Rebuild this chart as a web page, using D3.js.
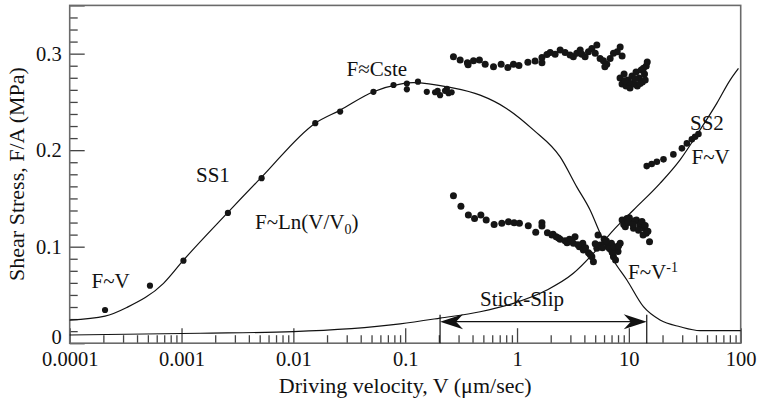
<!DOCTYPE html>
<html>
<head>
<meta charset="utf-8">
<script src="https://cdn.jsdelivr.net/npm/d3@7"></script>
<style>
  html, body { margin: 0; padding: 0; background: #fff; }
  svg { display: block; }
  text { font-family: "Liberation Serif", "Times New Roman", Times, serif; fill: #111; }
</style>
</head>
<body>
<svg id="chart" width="761" height="401"></svg>
<script>
// ---- data ----
const xMajorTicks = [0.0001, 0.001, 0.01, 0.1, 1, 10, 100];
const xTickLabels = ["0.0001", "0.001", "0.01", "0.1", "1", "10", "100"];
const yMajorTicks = [0, 0.1, 0.2, 0.3, 0.35];
const yTickLabels = ["0", "0.1", "0.2", "0.3", ""];

// SS1 steady-sliding points
const ss1V = [2.07e-4, 5.22e-4, 1.04e-3, 2.6e-3, 5.2e-3, 0.0157, 0.0262, 0.052, 0.0786, 0.1035, 0.1035, 0.13, 0.156, 0.185, 0.205, 0.227, 0.244, 0.26, 0.195, 0.236];
const ss1F = [0.0344, 0.0596, 0.0855, 0.135, 0.171, 0.228, 0.240, 0.2605, 0.2675, 0.269, 0.263, 0.271, 0.2605, 0.26, 0.257, 0.2615, 0.259, 0.26, 0.2615, 0.2635];

// stick-slip: upper (peak) stresses
const upperV = [0.27, 0.31, 0.36, 0.365, 0.408, 0.461, 0.519, 0.616, 0.721, 0.828, 0.929, 1.04, 1.25, 1.45, 1.67, 1.67, 1.85, 1.98, 2.19, 2.43, 2.69, 2.98, 3.19, 3.42, 3.67, 3.8, 4.06, 4.35, 4.67, 5.17, 5.0, 5.53, 5.92, 6.35, 6.1, 6.8, 7.28, 7.87, 8.36, 8.7,
  8.34, 8.69, 9.06, 9.44, 9.83, 10.24, 10.67, 11.12, 11.59, 11.9, 12.4, 12.9, 13.2, 13.8, 14.0, 14.3, 14.6, 10.0, 11.3, 12.6, 13.5, 9.2];
const upperF = [0.2967, 0.2933, 0.2905, 0.2885, 0.2926, 0.2933, 0.289, 0.2864, 0.2889, 0.2857, 0.2889, 0.2878, 0.2912, 0.2923, 0.2905, 0.296, 0.2992, 0.3013, 0.2995, 0.3037, 0.3013, 0.2985, 0.2967, 0.3003, 0.3037, 0.2995, 0.2967, 0.302, 0.3054, 0.3089, 0.3003, 0.295, 0.2926, 0.289, 0.2864, 0.295, 0.3003, 0.302, 0.307, 0.2975,
  0.2747, 0.2685, 0.2788, 0.2664, 0.2726, 0.2643, 0.2768, 0.2685, 0.2809, 0.2664, 0.2747, 0.283, 0.2706, 0.2788, 0.2726, 0.2871, 0.2913, 0.27, 0.274, 0.269, 0.285, 0.272];

// stick-slip: lower (residual) stresses
const lowerV = [0.27, 0.315, 0.367, 0.417, 0.475, 0.53, 0.624, 0.731, 0.838, 0.942, 1.05, 1.26, 1.47, 1.67, 1.67, 1.87, 2.05, 2.24, 2.43, 2.69, 2.94, 3.19, 3.30, 3.61, 3.87, 3.92, 4.35, 4.67, 4.82, 5.17, 5.53, 6.1, 6.5, 6.98, 7.28, 7.6, 7.87, 8.36, 8.7, 9.6, 10.6, 11.7, 12.5, 13.8, 14.3, 15.3, 9.3, 11.0, 13.4,
  9.0, 10.1, 11.3, 12.9, 14.8, 6.0, 5.3, 8.0,
  2.1, 2.35, 2.8, 3.05, 3.5, 4.1, 4.5, 5.0, 5.8, 6.3, 6.7, 7.1, 7.4, 8.1, 9.9, 10.9, 12.2, 13.1, 14.0];
const lowerF = [0.1528, 0.142, 0.1328, 0.1293, 0.1328, 0.1276, 0.1231, 0.1242, 0.1258, 0.1248, 0.1242, 0.1217, 0.1149, 0.1248, 0.1214, 0.1145, 0.1121, 0.1103, 0.1076, 0.1062, 0.1076, 0.1035, 0.1103, 0.1, 0.1035, 0.0965, 0.0937, 0.0896, 0.0844, 0.0983, 0.1017, 0.1051, 0.1, 0.1035, 0.0896, 0.0862, 0.0983, 0.1035, 0.1276, 0.1293, 0.1258, 0.1276, 0.1224, 0.119, 0.1138, 0.1051, 0.1207, 0.119, 0.112,
  0.123, 0.13, 0.127, 0.124, 0.116, 0.108, 0.112, 0.095,
  0.113, 0.109, 0.104, 0.107, 0.102, 0.099, 0.092, 0.103, 0.099, 0.106, 0.098, 0.094, 0.1, 0.101, 0.125, 0.123, 0.117, 0.126, 0.122];

// SS2 steady-sliding points
const ss2V = [14.45, 16.0, 17.8, 20.4, 25.0, 29.8, 33.0, 36.6, 39.1, 41.9];
const ss2F = [0.1835, 0.1856, 0.188, 0.1905, 0.1956, 0.2019, 0.207, 0.2112, 0.2139, 0.2167];

// model curve A (SS1 bell)
const curveAV = [1e-4, 2.07e-4, 3.24e-4, 6.9e-4, 1.04e-3, 2.55e-3, 5.2e-3, 0.0157, 0.0262, 0.052, 0.09, 0.1185, 0.252, 0.468, 0.811, 1.40, 2.43, 3.42, 4.50, 5.53, 7.28, 9.6, 13.5, 19.0, 28.7, 43.3, 100];
const curveAF = [0.024, 0.028, 0.037, 0.062, 0.086, 0.1345, 0.172, 0.228, 0.2415, 0.2605, 0.2685, 0.27, 0.265, 0.257, 0.243, 0.221, 0.193, 0.162, 0.138, 0.114, 0.086, 0.0655, 0.0378, 0.024, 0.017, 0.013, 0.013];

// model curve B (rising, SS2)
const curveBV = [1e-4, 1.47e-3, 0.01, 0.09, 0.205, 0.468, 0.929, 1.85, 3.19, 4.82, 7.28, 11.0, 19.0, 28.7, 43.3, 61.1, 80.4, 95.5];
const curveBF = [0.0085, 0.0103, 0.012, 0.020, 0.026, 0.0326, 0.0413, 0.0551, 0.0724, 0.0931, 0.1172, 0.138, 0.1656, 0.19, 0.221, 0.2485, 0.2726, 0.2847];

// stick-slip range
const stickSlipV = [0.205, 14.45];
const stickSlipArrowF = 0.0223;
const stickSlipMarkF = 0.0295;

// ---- layout ----
const svg = d3.select("#chart");
const L = 69.7, R = 740.7, T = 5.4, B = 343.2;
const x = d3.scaleLog().domain([1e-4, 100]).range([L, R]);
const y = d3.scaleLinear().domain([0, 0.35]).range([B, T]);

const axisCol = "#6a6a6a", tickCol = "#444";

// minor ticks
const xMinor = [];
for (let e = -4; e < 2; e++) for (let k = 2; k <= 9; k++) xMinor.push(k * Math.pow(10, e));
const yMinor = d3.range(0, 29).map(i => i * 0.0125).filter(v => !yMajorTicks.some(m => Math.abs(m - v) < 1e-6));

const gx = svg.append("g").attr("transform", `translate(0,${B})`);
gx.append("g").call(d3.axisBottom(x).tickValues(xMinor).tickSizeInner(-8).tickSizeOuter(0).tickFormat(""))
  .call(g => g.select(".domain").remove());
gx.append("g").call(d3.axisBottom(x).tickValues(xMajorTicks).tickSizeInner(-15).tickSizeOuter(0).tickPadding(8)
    .tickFormat((d, i) => xTickLabels[i]))
  .call(g => g.select(".domain").remove());
gx.selectAll("line").attr("stroke", tickCol).attr("stroke-width", 1.3);
gx.selectAll("text").attr("font-size", "20.5px").attr("font-family", "Liberation Serif, Times New Roman, serif").attr("fill", "#111");

const gy = svg.append("g").attr("transform", `translate(${L},0)`);
gy.append("g").call(d3.axisLeft(y).tickValues(yMinor).tickSizeInner(-8).tickSizeOuter(0).tickFormat(""))
  .call(g => g.select(".domain").remove());
gy.append("g").call(d3.axisLeft(y).tickValues(yMajorTicks).tickSizeInner(-15).tickSizeOuter(0).tickPadding(8)
    .tickFormat((d, i) => yTickLabels[i]))
  .call(g => g.select(".domain").remove());
gy.selectAll("line").attr("stroke", tickCol).attr("stroke-width", 1.3);
gy.selectAll("text").attr("font-size", "20.5px").attr("font-family", "Liberation Serif, Times New Roman, serif").attr("fill", "#111");
// zero label sits on the axis line
gy.selectAll(".tick").filter(d => d === 0).select("text").attr("dy", "0").attr("y", 0);

// frame
svg.append("rect").attr("x", L).attr("y", T).attr("width", R - L).attr("height", B - T)
  .attr("fill", "none").attr("stroke", axisCol).attr("stroke-width", 1.6);

// curves
const line = d3.line().x(d => x(d[0])).y(d => y(d[1])).curve(d3.curveMonotoneX);
svg.append("path").datum(curveAV.map((v, i) => [v, curveAF[i]])).attr("d", line)
  .attr("fill", "none").attr("stroke", "#111").attr("stroke-width", 1.2);
svg.append("path").datum(curveBV.map((v, i) => [v, curveBF[i]])).attr("d", line)
  .attr("fill", "none").attr("stroke", "#111").attr("stroke-width", 1.2);

// points
function dots(V, F, r) {
  svg.append("g").selectAll("circle").data(V.map((v, i) => [v, F[i]])).join("circle")
    .attr("cx", d => x(d[0])).attr("cy", d => y(d[1])).attr("r", r).attr("fill", "#151515");
}
dots(ss1V, ss1F, 3.1);
dots(upperV, upperF, 3.5);
dots(lowerV, lowerF, 3.5);
dots(ss2V, ss2F, 3.3);

// stick-slip marker lines & arrow
stickSlipV.forEach(v => {
  svg.append("line").attr("x1", x(v)).attr("x2", x(v)).attr("y1", B).attr("y2", y(stickSlipMarkF))
    .attr("stroke", "#111").attr("stroke-width", 1.2);
});
const ay = y(stickSlipArrowF), ax0 = x(stickSlipV[0]), ax1 = x(stickSlipV[1]);
svg.append("line").attr("x1", ax0 + 10).attr("x2", ax1 - 10).attr("y1", ay).attr("y2", ay)
  .attr("stroke", "#111").attr("stroke-width", 1.2);
svg.append("path").attr("d", `M${ax0},${ay} L${ax0 + 23},${ay - 7.5} L${ax0 + 16},${ay} L${ax0 + 23},${ay + 7.5} Z`).attr("fill", "#111");
svg.append("path").attr("d", `M${ax1},${ay} L${ax1 - 23},${ay - 7.5} L${ax1 - 16},${ay} L${ax1 - 23},${ay + 7.5} Z`).attr("fill", "#111");

// axis titles
svg.append("text").attr("x", (L + R) / 2).attr("y", 393).attr("text-anchor", "middle")
  .attr("font-size", "22px").text("Driving velocity, V (μm/sec)");
svg.append("text").attr("transform", "translate(24,174) rotate(-90)").attr("text-anchor", "middle")
  .attr("font-size", "22px").text("Shear Stress, F/A (MPa)");

// annotations
function label(px, py, str, fs) {
  return svg.append("text").attr("x", px).attr("y", py).attr("font-size", (fs || 21) + "px").text(str);
}
label(91.5, 288, "F~V");
label(196, 181.5, "SS1");
const ln = label(255, 228.5, "F~Ln(V/V");
ln.append("tspan").attr("font-size", "14px").attr("dy", 5).text("0");
ln.append("tspan").attr("dy", -5).text(")");
label(346.5, 76, "F≈Cste");
label(690, 130, "SS2");
label(691.5, 163.5, "F~V");
const fv = label(628, 278.5, "F~V");
fv.append("tspan").attr("font-size", "14px").attr("dy", -7).text("-1");
label(480, 305.5, "Stick-Slip");
</script>
</body>
</html>
